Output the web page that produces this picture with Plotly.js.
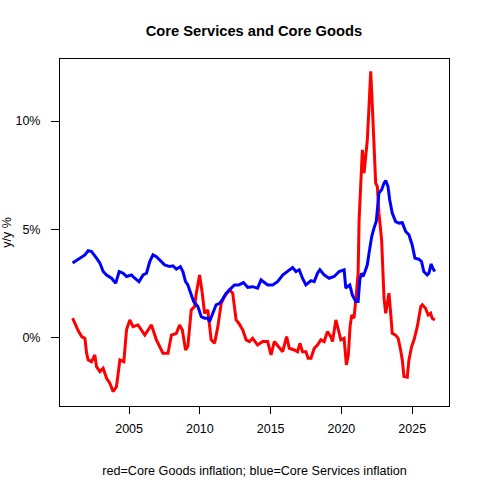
<!DOCTYPE html>
<html><head><meta charset="utf-8">
<script src="https://cdn.plot.ly/plotly-3.0.1.min.js"></script>
<style>html,body{margin:0;padding:0;background:#fff}#chart{width:480px;height:480px}</style>
</head><body><div id="chart"></div>
<script>
const goodsYears = [2001.01,2001.25,2001.41,2001.65,2001.88,2002.00,2002.11,2002.35,2002.58,2002.70,2002.94,2003.17,2003.41,2003.64,2003.87,2004.11,2004.23,2004.35,2004.63,2004.82,2005.05,2005.28,2005.63,2006.11,2006.58,2006.93,2007.39,2007.75,2007.99,2008.34,2008.57,2008.76,2008.99,2009.15,2009.39,2009.63,2009.75,2009.98,2010.17,2010.33,2010.56,2010.80,2011.04,2011.27,2011.51,2011.74,2012.09,2012.32,2012.56,2012.75,2013.03,2013.27,2013.50,2013.73,2014.08,2014.44,2014.79,2015.03,2015.26,2015.61,2015.85,2016.13,2016.32,2016.67,2016.90,2017.07,2017.25,2017.49,2017.65,2017.85,2018.08,2018.31,2018.55,2018.78,2019.01,2019.25,2019.37,2019.61,2019.72,2019.96,2020.19,2020.35,2020.49,2020.61,2020.73,2020.89,2021.06,2021.18,2021.25,2021.37,2021.48,2021.60,2021.72,2021.83,2021.95,2022.07,2022.18,2022.30,2022.42,2022.54,2022.65,2022.84,2022.94,2023.01,2023.13,2023.24,2023.36,2023.48,2023.59,2023.83,2024.01,2024.18,2024.30,2024.42,2024.65,2024.77,2024.96,2025.13,2025.36,2025.61,2025.72,2025.94,2026.13,2026.30,2026.41,2026.60];
const goodsValues = [0.88,0.49,0.30,0.03,-0.05,-0.74,-1.05,-1.13,-0.82,-1.36,-1.59,-1.44,-1.90,-2.13,-2.51,-2.29,-1.67,-1.05,-1.13,0.34,0.80,0.49,0.57,0.10,0.57,-0.12,-0.74,-0.74,0.10,0.18,0.57,0.34,-0.59,-0.43,1.26,1.42,2.04,2.88,2.04,1.11,1.26,-0.12,-0.28,0.49,1.57,1.88,2.19,2.04,0.80,0.65,0.34,-0.12,-0.20,-0.05,-0.36,-0.20,-0.20,-0.82,-0.20,-0.51,-0.67,0.03,-0.51,-0.59,-0.67,-0.28,-0.67,-0.67,-0.97,-0.97,-0.51,-0.36,-0.12,-0.20,0.26,0.03,-0.20,0.80,0.49,-0.12,-0.05,-1.28,-0.82,0.49,1.03,0.88,2.04,2.96,5.43,6.97,8.67,7.59,8.52,9.13,10.68,12.30,10.75,8.82,7.13,6.97,5.74,4.50,2.96,1.80,1.11,1.57,2.04,1.11,0.18,0.10,-0.05,-0.59,-1.05,-1.82,-1.85,-1.05,-0.43,-0.12,0.49,1.42,1.50,1.34,1.03,1.11,0.88,0.80];

const servicesYears = [2001.01,2001.53,2001.88,2002.11,2002.35,2002.70,2002.94,2003.17,2003.41,2003.76,2004.06,2004.30,2004.58,2004.82,2005.17,2005.40,2005.70,2005.99,2006.23,2006.46,2006.69,2006.93,2007.16,2007.51,2007.87,2008.10,2008.34,2008.62,2008.80,2008.99,2009.15,2009.39,2009.56,2009.86,2010.10,2010.33,2010.56,2010.68,2010.92,2011.15,2011.39,2011.58,2011.86,2012.09,2012.44,2012.75,2013.08,2013.38,2013.73,2014.08,2014.32,2014.56,2014.79,2015.14,2015.49,2015.85,2016.20,2016.55,2016.79,2017.02,2017.25,2017.49,2017.85,2018.08,2018.31,2018.48,2018.78,2019.13,2019.49,2019.84,2020.19,2020.31,2020.42,2020.59,2020.77,2021.01,2021.18,2021.30,2021.41,2021.53,2021.67,2021.83,2021.95,2022.14,2022.30,2022.46,2022.65,2022.84,2023.01,2023.13,2023.29,2023.41,2023.59,2023.83,2024.06,2024.30,2024.54,2024.77,2025.00,2025.19,2025.47,2025.66,2025.82,2026.06,2026.18,2026.34,2026.46,2026.60];
const servicesValues = [3.43,3.66,3.81,4.00,3.96,3.66,3.43,3.04,2.88,2.73,2.50,3.04,2.96,2.81,2.88,2.73,2.57,2.88,2.96,3.50,3.81,3.73,3.58,3.35,3.27,3.30,3.15,3.27,3.04,2.57,2.42,1.96,1.65,1.42,0.95,0.88,0.88,0.72,1.11,1.50,1.57,1.73,2.04,2.19,2.42,2.42,2.53,2.31,2.34,2.27,2.65,2.53,2.42,2.42,2.57,2.88,3.04,3.22,3.04,3.12,2.73,2.42,2.62,2.57,2.96,3.12,2.88,2.73,2.81,3.04,3.12,2.27,2.34,2.42,1.96,1.65,1.65,2.65,2.96,2.81,3.04,3.35,3.89,4.66,5.05,5.35,6.67,6.82,7.13,7.25,6.97,6.36,5.74,5.35,5.28,5.30,4.89,4.74,4.27,3.66,3.61,3.50,3.04,2.88,2.96,3.39,3.19,3.04];

const xTickVals = [2005,2010,2015,2020,2025];
const yTickVals = [0,5,10];
const yTickText = ["0%","5%","10%"];

const font = "Liberation Sans, Arial, sans-serif";
const traces = [
  {x: goodsYears, y: goodsValues, type: "scatter", mode: "lines", line: {color: "#ff0000", width: 3}, name: "Core Goods"},
  {x: servicesYears, y: servicesValues, type: "scatter", mode: "lines", line: {color: "#0000ff", width: 3}, name: "Core Services"}
];
const layout = {
  width: 480, height: 480,
  paper_bgcolor: "#fff", plot_bgcolor: "#fff",
  showlegend: false,
  font: {family: font, size: 12.5, color: "#000"},
  margin: {l: 60, r: 31, t: 59, b: 74, pad: 0},
  title: {text: "<b>Core Services and Core Goods</b>", font: {family: font, size: 14.7, color: "#000"}, x: 0.529, xanchor: "center", y: 0.935, yanchor: "middle"},
  xaxis: {
    range: [2000.12, 2027.6], tickvals: xTickVals, ticktext: xTickVals.map(String),
    ticks: "outside", ticklen: 7, tickwidth: 1, tickcolor: "#000",
    showgrid: false, zeroline: false, showline: true, linecolor: "#000", linewidth: 1, mirror: true,
    ticklabelstandoff: 4, tickfont: {family: font, size: 12.5, color: "#000"},
    title: {text: "red=Core Goods inflation; blue=Core Services inflation", font: {family: font, size: 12.6, color: "#000"}, standoff: 31}
  },
  yaxis: {
    range: [-3.18, 12.87], tickvals: yTickVals, ticktext: yTickText,
    ticks: "outside", ticklen: 8, tickwidth: 1, tickcolor: "#000",
    showgrid: false, zeroline: false, showline: true, linecolor: "#000", linewidth: 1, mirror: true,
    ticklabelstandoff: 8, tickfont: {family: font, size: 12.5, color: "#000"},
    title: {text: "y/y %", font: {family: font, size: 12.5, color: "#000"}, standoff: 4}
  }
};
Plotly.newPlot("chart", traces, layout, {displayModeBar: false, staticPlot: true});
</script>
</body></html>
